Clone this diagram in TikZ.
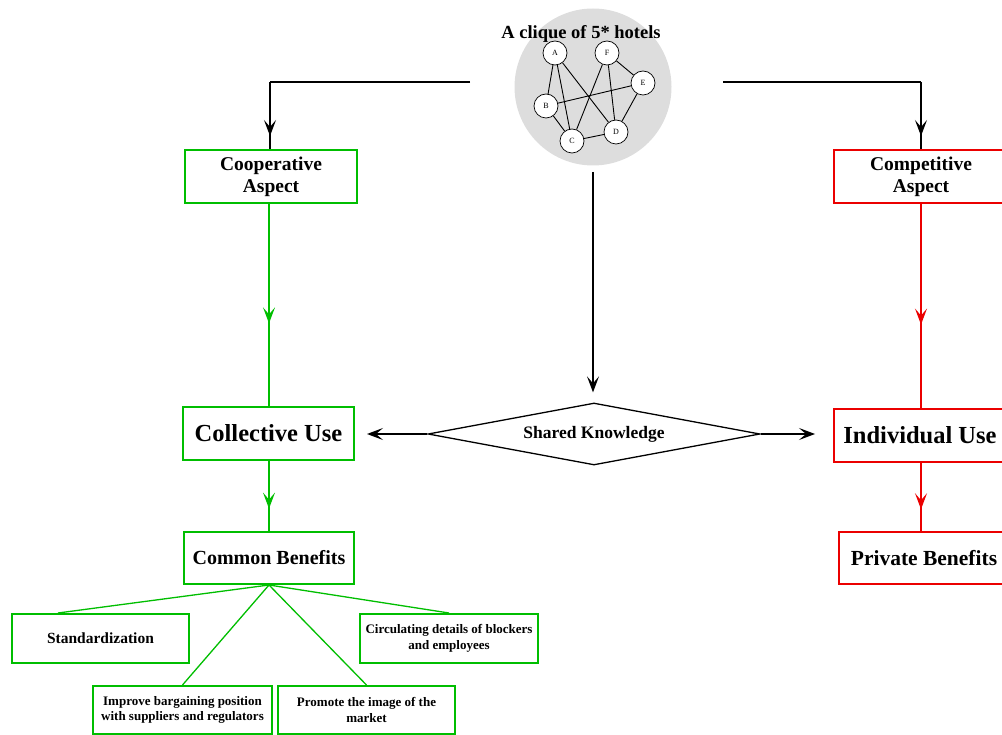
\documentclass[tikz,border=0pt]{standalone}
\usepackage{fontspec}
\setmainfont{Liberation Serif}
\usetikzlibrary{arrows.meta,shapes.geometric,decorations.markings}

\definecolor{coopgreen}{RGB}{0,190,0}
\definecolor{compred}{RGB}{235,0,0}
\definecolor{cliquegray}{RGB}{221,221,221}

\pgfdeclarelayer{back}
\pgfdeclarelayer{mid}
\pgfsetlayers{back,mid,main}

\tikzset{
  >={Stealth[length=16pt,width=12pt,inset=7pt]},
  box/.style={draw, line width=2pt, fill=white, align=center, inner sep=0pt},
  greenbox/.style={box, draw=coopgreen},
  redbox/.style={box, draw=compred},
  midtip/.style={postaction={decorate}, decoration={markings, mark=at position #1 with {\arrow{>}}}},
  hotel/.style={circle, draw, line width=0.7pt, fill=white, minimum size=24pt, inner sep=0pt, font=\fontsize{8}{9}\selectfont},
  link/.style={line width=0.9pt},
  flow/.style={line width=1.3pt, black},
  glink/.style={line width=1.3pt, coopgreen},
  rlink/.style={line width=1.3pt, compred},
  fs/.style 2 args={font=\bfseries\fontsize{#1}{#2}\selectfont},
}

\begin{document}
\begin{tikzpicture}[x=1pt,y=-1pt]
\useasboundingbox (0,0) rectangle (1002,735);

% clique of hotels
\begin{pgfonlayer}{back}
\node[circle, fill=cliquegray, minimum size=157pt, inner sep=0pt] (clique) at (593,87) {};
\end{pgfonlayer}
\node[hotel] (A) at (555,53) {A};
\node[hotel] (F) at (607,53) {F};
\node[hotel] (E) at (643,83) {E};
\node[hotel] (B) at (546,106) {B};
\node[hotel] (C) at (572,141) {C};
\node[hotel] (D) at (616,132) {D};
\begin{pgfonlayer}{mid}
\draw[link] (A) -- (B);
\draw[link] (A) -- (C);
\draw[link] (A) -- (D);
\draw[link] (F) -- (C);
\draw[link] (F) -- (D);
\draw[link] (F) -- (E);
\draw[link] (B) -- (E);
\draw[link] (B) -- (C);
\draw[link] (C) -- (D);
\draw[link] (E) -- (D);
\end{pgfonlayer}
\node[fs={18.5}{21}] (title) at (581,34) {A clique of 5* hotels};

% main boxes
\node[greenbox, fs={19.5}{22}, minimum width=172pt, minimum height=53pt] (coop) at (271,177) {Cooperative\\Aspect};
\node[redbox, fs={19.5}{22}, minimum width=174pt, minimum height=53pt] (comp) at (921,177) {Competitive\\Aspect};
\node[greenbox, fs={24.5}{28}, minimum width=171pt, minimum height=53pt] (coll) at (268.5,433.5) {Collective Use};
\node[redbox, fs={24.5}{28}, minimum width=172pt, minimum height=53pt] (indiv) at (920,435.5) {Individual Use};
\node[greenbox, fs={20}{23}, minimum width=170pt, minimum height=52pt] (common) at (269,558) {Common Benefits};
\node[redbox, fs={21.5}{24}, minimum width=170pt, minimum height=52pt] (private) at (924,558) {Private Benefits};
\node[draw, line width=1.3pt, diamond, aspect=5.35, inner sep=0pt, minimum width=332pt, minimum height=62pt, fs={17.5}{20}] (shared) at (594,434) {Shared Knowledge};

% benefit boxes
\node[greenbox, fs={15.5}{18}, minimum width=177pt, minimum height=49pt] (std) at (100.5,638.5) {Standardization};
\node[greenbox, fs={13}{15.5}, minimum width=178pt, minimum height=49pt] (circ) at (449,638.5) {Circulating details of blockers\\and employees};
\node[greenbox, fs={13}{15.5}, minimum width=179pt, minimum height=48pt] (impr) at (182.5,710) {Improve bargaining position\\with suppliers and regulators};
\node[greenbox, fs={13}{15.5}, minimum width=177pt, minimum height=48pt] (prom) at (366.5,710) {Promote the image of the\\market};

% connectors from the clique
\coordinate (cl) at (470,82);
\coordinate (cr) at (723,82);
\coordinate (cb) at (593,172);
\coordinate (lc) at (270,82);
\coordinate (rc) at (921,82);
\draw[flow] (cl) -- (lc);
\draw[flow, midtip=0.8] (lc) -- (lc |- coop.north);
\draw[flow] (cr) -- (rc);
\draw[flow, midtip=0.8] (rc) -- (rc |- comp.north);
\draw[flow, ->, shorten >=10pt] (cb) -- (cb |- shared.north);
\draw[flow, ->, shorten >=12pt] (shared.west) -- (shared.west -| coll.east);
\draw[flow, ->, shorten >=18pt] (shared.east) -- (shared.east -| indiv.west);

% cooperative branch
\coordinate (gx) at (269,0);
\draw[glink, midtip=0.59] (gx |- coop.south) -- (gx |- coll.north);
\draw[glink, midtip=0.68] (gx |- coll.south) -- (gx |- common.north);
\draw[glink] (common.south) -- ([xshift=-42.5pt]std.north);
\draw[glink] (common.south) -- (circ.north);
\draw[glink] (common.south) -- (impr.north);
\draw[glink] (common.south) -- (prom.north);

% competitive branch
\coordinate (rx) at (921,0);
\draw[rlink, midtip=0.59] (rx |- comp.south) -- (rx |- indiv.north);
\draw[rlink, midtip=0.68] (rx |- indiv.south) -- (rx |- private.north);
\end{tikzpicture}
\end{document}
